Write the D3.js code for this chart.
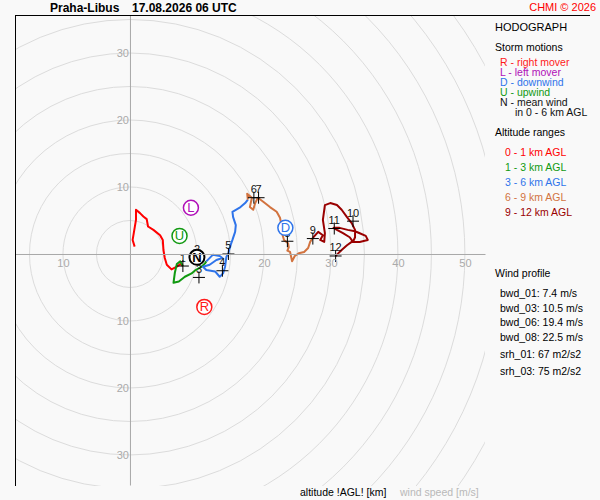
<!DOCTYPE html>
<html>
<head>
<meta charset="utf-8">
<script src="https://cdn.jsdelivr.net/npm/d3@7"></script>
<style>
  body { margin: 0; background: #f9f9f9; }
  svg { display: block; font-family: "Liberation Sans", Arial, sans-serif; }
</style>
</head>
<body>
<script>
// hodograph trace, [u, v] in m/s, one array per altitude layer
var trace01 = [[0.7,1.1],[0.4,2.1],[0.6,3.3],[0.9,5.1],[0.9,6.6],[1.5,6.1],[2.0,5.6],[2.5,5.2],[2.7,4.1],
  [3.5,3.6],[4.5,2.8],[4.9,2.1],[5.0,0.6],[5.2,-0.6],[5.5,-1.6],[6.2,-2.3],[7.0,-1.9],[7.5,-1.5],[7.9,-1.8]];
var trace13 = [[7.9,-1.8],[7.5,-1.1],[7.0,-1.5],[6.7,-2.8],[6.5,-4.3],[7.3,-4.1],[8.2,-3.4],[9.2,-2.9],
  [9.8,-2.4],[10.7,-1.9],[11.2,-1.4],[11.4,-1.1]];
var trace36 = [[11.4,-1.1],[12.4,-0.1],[13.4,-0.3],[13.8,-0.6],[12.9,-0.9],[11.9,-1.6],[10.9,-1.9],[11.4,-2.4],
  [12.7,-2.6],[13.4,-3.4],[13.9,-2.9],[14.2,-1.9],[14.4,-0.4],[14.7,0.1],[14.9,1.0],
  [15.3,2.1],[15.7,3.3],[15.8,4.3],[15.4,5.5],[15.3,6.3],[16.0,6.7],[16.5,7.0],[17.2,7.6],[17.6,8.1]];
var trace69 = [[17.6,8.1],[17.5,9.0],[18.2,8.4],[17.9,7.0],[18.4,6.6],[18.7,7.6],[19.1,8.4],[19.9,7.8],
  [20.9,7.0],[21.9,6.3],[22.4,5.4],[22.6,4.4],[22.7,3.1],[23.0,2.1],[23.6,1.6],[23.7,1.0],[23.5,0.5],
  [23.9,0.3],[24.1,-0.6],[24.2,-1.1],[24.6,-0.3],[25.2,0.1],[26.0,0.3],[26.6,0.9],[26.9,1.8],[27.3,2.4]];
var trace912 = [[27.3,2.4],[28.1,3.3],[28.8,2.8],[28.4,2.1],[29.0,1.8],[29.1,3.1],[28.8,5.1],[29.1,7.3],
  [29.9,7.6],[30.9,7.3],[31.6,6.6],[32.4,5.5],[33.1,4.6],[33.6,3.6],[33.6,2.5],[33.3,1.8],[32.8,2.5],
  [31.8,3.1],[30.9,3.6],[30.4,3.9],[31.3,3.9],[32.5,3.6],[33.6,3.4],[34.3,3.1],[35.2,2.7],[35.5,2.1],
  [34.3,1.8],[33.1,1.8],[32.4,1.3],[31.6,0.6],[30.9,-0.1],[30.7,-0.3]];

// altitude markers every km
var kmLabels = ["1","2","3","4","5","6","7","8","9","10","11","12"];
var kmU = [7.9, 10.0, 10.3, 13.8, 14.7, 18.5, 19.2, 23.5, 27.3, 33.3, 30.5, 30.7];
var kmV = [-1.8, -0.5, -3.5, -2.5, 0.0, 8.4, 8.4, 1.9, 2.3, 4.9, 3.8, -0.3];

// storm motions
var stormLetters = ["R", "L", "D", "U", "N"];
var stormU = [11.1, 9.1, 23.2, 7.4, 10.0];
var stormV = [-7.9, 6.9, 3.9, 2.7, -0.5];

// grid and ticks
var ringSpeeds = [5, 10, 15, 20, 25, 30, 35, 40, 45, 50, 55, 60, 65];
var xTickValues = [-10, 20, 30, 40, 50];
var yTickValues = [30, 20, 10, -10, -20, -30];

var layerNames = ["0 - 1 km AGL", "1 - 3 km AGL", "3 - 6 km AGL", "6 - 9 km AGL", "9 - 12 km AGL"];
var stormNames = ["R - right mover", "L - left mover", "D - downwind", "U - upwind", "N - mean wind"];
var profileLabels = ["bwd_01", "bwd_03", "bwd_06", "bwd_08", "srh_01", "srh_03"];
var profileValues = ["7.4 m/s", "10.5 m/s", "19.4 m/s", "22.5 m/s", "67 m2/s2", "75 m2/s2"];

var layerColors = ["#ff0000", "#119911", "#2f74ea", "#d2733f", "#990000"];
var stormColors = ["#ff1a1a", "#b010b8", "#2f74ea", "#119911", "#000000"];

var W = 600, H = 500;
var svg = d3.select("body").append("svg").attr("width", W).attr("height", H);
svg.append("rect").attr("width", W).attr("height", H).attr("fill", "#f9f9f9");

var x = d3.scaleLinear().domain([-17.16, 53]).range([15, 485]);
var y = d3.scaleLinear().domain([35.67, -34.48]).range([15, 485]);

svg.append("clipPath").attr("id", "plotclip")
  .append("rect").attr("x", 15).attr("y", 15).attr("width", 470).attr("height", 471);

var plot = svg.append("g").attr("clip-path", "url(#plotclip)");

plot.selectAll("circle.ring")
  .data(ringSpeeds)
  .enter().append("circle")
  .attr("class", "ring")
  .attr("cx", x(0))
  .attr("cy", y(0))
  .attr("r", function(d) { return x(d) - x(0); })
  .attr("fill", "none")
  .attr("stroke", "#dcdcdc")
  .attr("stroke-width", 1);

var xAxis = svg.append("g")
  .attr("transform", "translate(0," + y(0) + ")")
  .call(d3.axisBottom(x).tickValues(xTickValues).tickSize(0).tickPadding(5)
    .tickFormat(function(d) { return Math.abs(d); }));
var yAxis = svg.append("g")
  .attr("transform", "translate(" + x(0) + ",0)")
  .call(d3.axisLeft(y).tickValues(yTickValues).tickSize(0).tickPadding(1)
    .tickFormat(function(d) { return Math.abs(d); }));
[xAxis, yAxis].forEach(function(a) {
  a.select(".domain").attr("stroke", "#a8a8a8");
  a.selectAll("text").attr("fill", "#aaaaaa").style("font-size", "11px")
    .style("font-family", "'Liberation Sans', Arial, sans-serif");
});

// frame
svg.append("line").attr("x1", 15).attr("x2", 590).attr("y1", 15.5).attr("y2", 15.5)
  .attr("stroke", "#000");
svg.append("line").attr("x1", 15.5).attr("x2", 15.5).attr("y1", 15).attr("y2", 486)
  .attr("stroke", "#000");

// traces
var line = d3.line().x(function(d) { return x(d[0]); }).y(function(d) { return y(d[1]); });
var traces = [trace01, trace13, trace36, trace69, trace912];
plot.selectAll("path.trace")
  .data(traces)
  .enter().append("path")
  .attr("class", "trace")
  .attr("d", line)
  .attr("fill", "none")
  .attr("stroke", function(d, i) { return layerColors[i]; })
  .attr("stroke-width", 2)
  .attr("stroke-linejoin", "round");

// km markers
var km = plot.selectAll("g.km")
  .data(kmLabels)
  .enter().append("g")
  .attr("class", "km")
  .attr("transform", function(d, i) { return "translate(" + x(kmU[i]) + "," + y(kmV[i]) + ")"; });
km.append("path").attr("d", "M-6,0H6M0,-6V6").attr("stroke", "#000").attr("stroke-width", 1);
km.append("text").text(function(d) { return d; })
  .attr("y", -4.5).attr("text-anchor", "middle")
  .style("font-size", "11px").attr("fill", "#111");

// storm motion markers
var sm = plot.selectAll("g.storm")
  .data(stormLetters)
  .enter().append("g")
  .attr("class", "storm")
  .attr("transform", function(d, i) { return "translate(" + x(stormU[i]) + "," + y(stormV[i]) + ")"; });
sm.append("circle").attr("r", 7.5).attr("fill", "#fff")
  .attr("stroke", function(d, i) { return stormColors[i]; })
  .attr("stroke-width", function(d) { return d === "N" ? 2 : 1.5; });
sm.append("text").text(function(d) { return d; })
  .attr("text-anchor", "middle").attr("y", 4.5)
  .style("font-size", "13px")
  .style("font-weight", function(d) { return d === "N" ? "bold" : "normal"; })
  .attr("fill", function(d, i) { return stormColors[i]; });

// header
svg.append("text").attr("x", 50).attr("y", 12).text("Praha-Libus")
  .style("font-size", "12px").style("font-weight", "bold");
svg.append("text").attr("x", 132).attr("y", 12).text("17.08.2026 06 UTC")
  .style("font-size", "12px").style("font-weight", "bold");
svg.append("text").attr("x", 596).attr("y", 11).attr("text-anchor", "end")
  .text("CHMI \u00a9 2026").attr("fill", "#ff0000").style("font-size", "11px");

// right panel
var panel = svg.append("g").style("font-size", "10.5px");
panel.append("text").attr("x", 495).attr("y", 30.5).text("HODOGRAPH").style("font-size", "11px");
panel.append("text").attr("x", 495).attr("y", 50.5).text("Storm motions");
panel.selectAll("text.sm").data(stormNames).enter().append("text")
  .attr("class", "sm").attr("x", 500)
  .attr("y", function(d, i) { return 65.5 + i * 10; })
  .attr("fill", function(d, i) { return stormColors[i] === "#000000" ? "#111" : stormColors[i]; })
  .text(function(d) { return d; });
panel.append("text").attr("x", 515).attr("y", 115.5).text("in 0 - 6 km AGL").attr("fill", "#111");
panel.append("text").attr("x", 495).attr("y", 135.5).text("Altitude ranges");
panel.selectAll("text.alt").data(layerNames).enter().append("text")
  .attr("class", "alt").attr("x", 505)
  .attr("y", function(d, i) { return 155.5 + i * 15; })
  .attr("fill", function(d, i) { return layerColors[i]; })
  .text(function(d) { return d; });
panel.append("text").attr("x", 495).attr("y", 276.5).text("Wind profile");
panel.selectAll("text.wp").data(profileLabels).enter().append("text")
  .attr("class", "wp").attr("x", 500)
  .attr("y", function(d, i) { return i < 4 ? 297 + i * 14.6 : 357.5 + (i - 4) * 17.5; })
  .text(function(d, i) { return d + ": " + profileValues[i]; });

// footer
svg.append("text").attr("x", 300).attr("y", 495.5).text("altitude !AGL! [km]")
  .style("font-size", "10.5px").attr("fill", "#000");
svg.append("text").attr("x", 400).attr("y", 495.5).text("wind speed [m/s]")
  .style("font-size", "10.5px").attr("fill", "#b8b8b8");
</script>
</body>
</html>
